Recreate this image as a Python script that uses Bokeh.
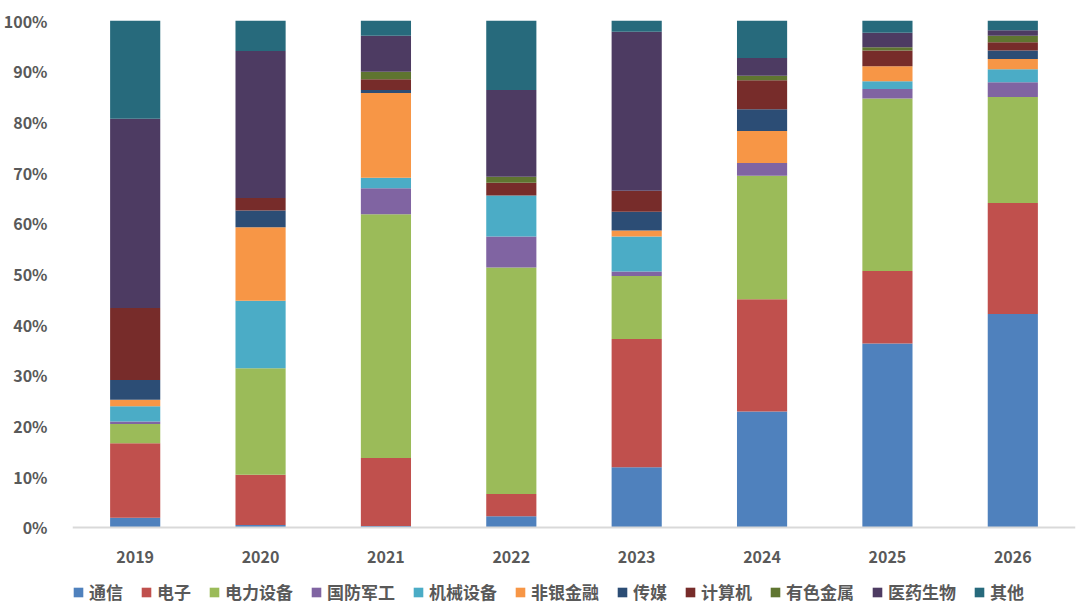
from bokeh.plotting import figure
from bokeh.models import ColumnDataSource, FactorRange, Range1d, FixedTicker, Legend, LegendItem
from bokeh.embed import file_html
from bokeh.resources import INLINE

# Share of each sector per year (%), bottom to top of every stacked bar
years = ["2019", "2020", "2021", "2022", "2023", "2024", "2025", "2026"]
sectors = ["通信", "电子", "电力设备", "国防军工", "机械设备", "非银金融",
           "传媒", "计算机", "有色金属", "医药生物", "其他"]

tongxin   = [1.9, 0.5, 0.3, 2.2, 11.9, 22.9, 36.3, 42.1]
dianzi    = [14.7, 9.9, 13.4, 4.4, 25.3, 22.1, 14.3, 21.9]
dianli    = [3.8, 21.0, 48.1, 44.7, 12.4, 24.4, 34.0, 20.9]
guofang   = [0.5, 0.0, 5.1, 6.1, 0.9, 2.5, 1.9, 2.9]
jixie     = [3.0, 13.3, 2.1, 8.1, 6.9, 0.0, 1.5, 2.6]
feiyin    = [1.3, 14.5, 16.7, 0.0, 1.2, 6.3, 3.0, 2.0]
chuanmei  = [3.9, 3.3, 0.6, 0.0, 3.7, 4.3, 0.0, 1.7]
jisuanji  = [14.2, 2.5, 2.1, 2.5, 4.1, 5.7, 3.1, 1.6]
youse     = [0.0, 0.0, 1.5, 1.2, 0.0, 0.9, 0.6, 1.3]
yiyao     = [37.3, 29.0, 7.1, 17.1, 31.4, 3.5, 2.9, 1.1]
qita      = [19.4, 6.0, 3.0, 13.7, 2.2, 7.4, 2.4, 1.9]

series = [tongxin, dianzi, dianli, guofang, jixie, feiyin,
          chuanmei, jisuanji, youse, yiyao, qita]

colors = ["#4F81BD", "#C0504D", "#9BBB59", "#8064A2", "#4BACC6", "#F79646",
          "#2C4D75", "#772C2A", "#5F7530", "#4D3B62", "#276A7C"]

y_ticks = list(range(0, 101, 10))

FONT = "Noto Sans CJK SC"
TEXT = "#595959"

data = {"year": years}
for name, vals in zip(sectors, series):
    data[name] = vals
source = ColumnDataSource(data)

# The frame runs to the bottom edge so the legend row can sit inside it;
# the category axis is pinned at y = 0.
p = figure(
    x_range=FactorRange(factors=years, range_padding=0),
    y_range=Range1d(-16.77, 100),
    width=1080, height=612,
    output_backend="svg", toolbar_location=None,
    min_border_left=71, min_border_right=5,
    min_border_top=20, min_border_bottom=0,
)

renderers = p.vbar_stack(sectors, x="year", width=0.4, source=source,
                         fill_color=colors, line_color=None)

p.xgrid.visible = False
p.ygrid.visible = False
p.outline_line_color = None
p.background_fill_color = "white"

p.yaxis.ticker = FixedTicker(ticks=y_ticks)
p.yaxis.major_label_overrides = {v: f"{v}%" for v in y_ticks}
p.yaxis.axis_line_color = None
p.yaxis.major_tick_line_color = None
p.yaxis.minor_tick_line_color = None
p.yaxis.major_label_standoff = 19

p.xaxis.fixed_location = 0
p.xaxis.axis_line_color = "#D9D9D9"
p.xaxis.axis_line_width = 2
p.xaxis.major_tick_line_color = None
p.xaxis.major_label_standoff = 18

for ax in (p.xaxis[0], p.yaxis[0]):
    ax.major_label_text_font = FONT
    ax.major_label_text_font_size = "16px"
    ax.major_label_text_font_style = "bold"
    ax.major_label_text_color = TEXT

legend = Legend(
    items=[LegendItem(label=n, renderers=[r]) for n, r in zip(sectors, renderers)],
    orientation="horizontal", location=(0, 8),
    glyph_width=12, glyph_height=12, label_standoff=5, spacing=17,
    padding=0, margin=0, border_line_color=None, background_fill_alpha=0,
    label_text_font=FONT, label_text_font_size="17px",
    label_text_font_style="bold", label_text_color=TEXT,
)
p.add_layout(legend)

open("out.html", "w").write(file_html(p, INLINE))
